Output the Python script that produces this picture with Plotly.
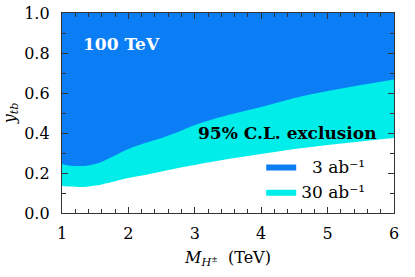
import plotly.graph_objects as go

# Charged Higgs mass (TeV)
mass_tev = [1.0, 1.1, 1.25, 1.4, 1.5, 1.6, 1.75, 1.9, 2.0, 2.25, 2.5, 2.75, 3.0, 3.5, 4.0, 4.5, 5.0, 5.5, 6.0]
# 95% C.L. exclusion boundary on y_tb, 3 ab^-1
ytb_3ab = [0.245, 0.238, 0.235, 0.238, 0.245, 0.256, 0.28, 0.305, 0.32, 0.35, 0.375, 0.405, 0.44, 0.49, 0.53, 0.575, 0.61, 0.64, 0.668]
# 95% C.L. exclusion boundary on y_tb, 30 ab^-1
ytb_30ab = [0.135, 0.132, 0.13, 0.133, 0.137, 0.143, 0.155, 0.168, 0.175, 0.19, 0.207, 0.225, 0.24, 0.27, 0.295, 0.32, 0.34, 0.358, 0.375]

x_range = [1, 6]
y_range = [0.0, 1.0]
x_ticks = [1, 2, 3, 4, 5, 6]
y_ticks = [0.0, 0.2, 0.4, 0.6, 0.8, 1.0]

blue = "#0B7DF5"
cyan = "#00EDEA"
font_family = "DejaVu Serif"

top = [y_range[1]] * len(mass_tev)

fig = go.Figure()
fig.add_trace(go.Scatter(x=mass_tev, y=top, mode="lines", line=dict(width=0),
                         showlegend=False, hoverinfo="skip"))
fig.add_trace(go.Scatter(x=mass_tev, y=ytb_30ab, mode="lines", fill="tonexty",
                         fillcolor=cyan, line=dict(width=0, shape="spline", color=cyan),
                         name="30 ab\u207b\u00b9", hoverinfo="skip"))
fig.add_trace(go.Scatter(x=mass_tev, y=top, mode="lines", line=dict(width=0),
                         showlegend=False, hoverinfo="skip"))
fig.add_trace(go.Scatter(x=mass_tev, y=ytb_3ab, mode="lines", fill="tonexty",
                         fillcolor=blue, line=dict(width=0, shape="spline", color=blue),
                         name="\u20073 ab\u207b\u00b9", hoverinfo="skip"))

axis_common = dict(
    showgrid=False, zeroline=False, showline=True, linecolor="#333333", linewidth=1.3,
    mirror="allticks", ticks="inside", ticklen=6, tickwidth=1, tickcolor="#333333",
    tickfont=dict(family=font_family, size=16, color="black"), automargin=False,
    layer="above traces",
)

fig.update_xaxes(range=x_range, tickvals=x_ticks, ticktext=[str(v) for v in x_ticks],
                 minor=dict(dtick=0.2, ticks="inside", ticklen=3.5, tickcolor="#333333"),
                 title=dict(text="<i>M</i><sub><i>H</i><sup>\u00b1</sup></sub>  (TeV)",
                            font=dict(family=font_family, size=16, color="black"), standoff=9),
                 ticklabelstandoff=6,
                 **axis_common)
fig.update_yaxes(range=y_range, tickvals=y_ticks, ticktext=[f"{v:.1f}" for v in y_ticks],
                 minor=dict(dtick=0.1, ticks="inside", ticklen=3.5, tickcolor="#333333"),
                 title=dict(text="<i>y</i><sub><i>tb</i></sub>",
                            font=dict(family=font_family, size=16, color="black"), standoff=6),
                 ticklabelstandoff=8,
                 **axis_common)

fig.add_annotation(x=1.9, y=0.845, xref="x", yref="y", text="<b>100 TeV</b>",
                   showarrow=False, font=dict(family=font_family, size=17, color="white"))
fig.add_annotation(x=4.39, y=0.40, xref="x", yref="y", text="<b>95% C.L. exclusion</b>",
                   showarrow=False, font=dict(family=font_family, size=17, color="black"))

fig.update_layout(
    width=415, height=277,
    margin=dict(l=62, r=21, t=13, b=64, autoexpand=False),
    paper_bgcolor="white", plot_bgcolor="white",
    font=dict(family=font_family, size=16, color="black"),
    showlegend=True,
    legend=dict(x=0.60, y=0.32, xanchor="left", yanchor="top", traceorder="reversed",
                bgcolor="rgba(0,0,0,0)", font=dict(family=font_family, size=17),
                itemwidth=30, tracegroupgap=0),
)

fig.write_html("out.html", config={"displayModeBar": False},
               post_script="document.body.style.margin='0';document.body.style.padding='0';")
